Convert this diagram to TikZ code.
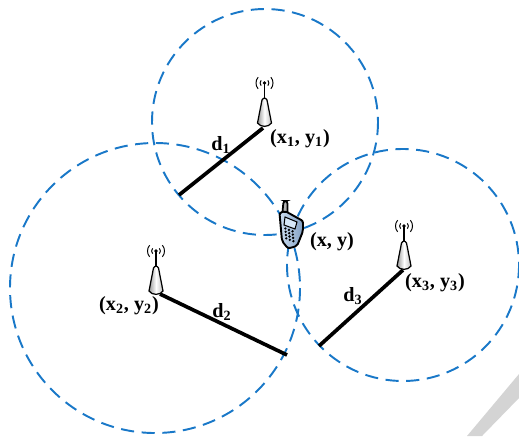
\documentclass[tikz,border=0pt]{standalone}
\usepackage{fontspec}
\setmainfont{Liberation Serif}
\definecolor{ringblue}{RGB}{25,120,200}
\definecolor{phoneleft}{RGB}{205,222,240}
\definecolor{phoneright}{RGB}{130,160,195}
\definecolor{phonescreen}{RGB}{215,232,248}
\tikzset{
 ring/.style={draw=ringblue,line width=1.1pt,dash pattern=on 7.5pt off 4.3pt},
 rangeline/.style={draw=black,line width=2.1pt},
 lab/.style={font=\bfseries\fontsize{11.5pt}{12pt}\selectfont,inner sep=0pt},
 waves/.style={line width=.55pt},
 tower/.pic={
  \draw[line width=.7pt,left color=black!40,right color=black!25,middle color=white]
    (-7,11) -- (-2.5,-12) .. controls (-1,-14.5) and (1,-14.5) .. (2.5,-12) -- (7,11)
    .. controls (4,15.5) and (-4,15.5) .. (-7,11) -- cycle;
  \draw[line width=1pt] (0,-13) -- (0,-29);
  \fill (0,-29) circle (1.8);
  \draw[waves] (-3.4,-26.3) arc (140:220:4.2);
  \draw[waves] (3.4,-26.3) arc (40:-40:4.2);
  \draw[waves] (-6.4,-23.2) arc (140:220:9);
  \draw[waves] (6.4,-23.2) arc (40:-40:9);
 },
}
\begin{document}
\begin{tikzpicture}[x=0.02cm,y=-0.02cm]
\useasboundingbox (0,0) rectangle (519,436);
\fill[black!17] (519,374) -- (519,398) -- (482,436) -- (467,436) -- cycle;
\draw[ring] (265,122) circle[radius=113];
\draw[ring] (155,288) circle[radius=145];
\draw[ring] (403,265) circle[radius=116];
% range lines
\coordinate (t1) at (263,128);
\coordinate (e1) at (179,195);
\coordinate (t2) at (160,294);
\coordinate (e2) at (287,355);
\coordinate (t3) at (403,270);
\coordinate (e3) at (319,346);
\draw[rangeline] (t1) -- (e1);
\draw[rangeline] (t2) -- (e2);
\draw[rangeline] (t3) -- (e3);
\pic at (264.5,112) {tower};
\pic at (156,280) {tower};
\pic at (404,255) {tower};
% phone
\draw[line width=1pt,fill=black!30,rounded corners=1.5pt] (282.5,212) -- (283.5,201) -- (287.5,201) -- (287.5,213);
\draw[line width=1.1pt,left color=phoneleft,right color=phoneright,rounded corners=1.2pt]
  (279.5,213) -- (285,211) -- (303,221) -- (303,231) -- (297,246) -- (288,248.5) -- (282,241) -- cycle;
\draw[line width=.6pt,fill=phonescreen] (285,217) -- (297,222) -- (295,229) -- (284,225) -- cycle;
\foreach \i in {0,1,2}\foreach \j in {0,1,2,3}
  \fill ({285.3+\i*3.6+\j*.3},{228.5+\i*1.4+\j*3.3}) circle (1.3);
\node[lab] (l1) at (300,138.5) {(x\textsubscript{1}, y\textsubscript{1})};
\node[lab] (l2) at (129,306) {(x\textsubscript{2}, y\textsubscript{2})};
\node[lab] (l3) at (435,283) {(x\textsubscript{3}, y\textsubscript{3})};
\node[lab] (l0) at (332,242) {(x, y)};
\node[lab] (d1) at (221,145) {d\textsubscript{1}};
\node[lab] (d2) at (222,312) {d\textsubscript{2}};
\node[lab] (d3) at (353,296) {d\textsubscript{3}};
\end{tikzpicture}
\end{document}
